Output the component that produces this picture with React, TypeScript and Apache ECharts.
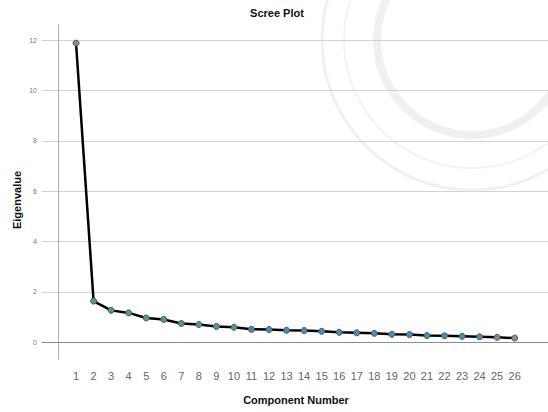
import React, { useEffect, useRef } from "react";
import * as echarts from "echarts";

const components = [1, 2, 3, 4, 5, 6, 7, 8, 9, 10, 11, 12, 13, 14, 15, 16, 17, 18, 19, 20, 21, 22, 23, 24, 25, 26];
const eigenvalues = [11.88, 1.64, 1.27, 1.17, 0.97, 0.91, 0.75, 0.71, 0.63, 0.6, 0.52, 0.51, 0.48, 0.47, 0.44, 0.4, 0.38, 0.36, 0.32, 0.31, 0.27, 0.26, 0.24, 0.22, 0.2, 0.17];
const markerColors = ["#8a8a8a", "#4f9a92", "#4f9a92", "#4f9a92", "#4f9a92", "#4f9a92", "#4f9a92", "#4f9a92", "#4f9a92", "#4f9a92", "#3f8fbf", "#3f8fbf", "#3f8fbf", "#3f8fbf", "#3f8fbf", "#3f8fbf", "#3f8fbf", "#3f8fbf", "#3f8fbf", "#3f8fbf", "#3f8fbf", "#3f8fbf", "#3f8fbf", "#3f8fbf", "#8a8a8a", "#8a8a8a"];
const yTicks = [0, 2, 4, 6, 8, 10, 12];

export default function App() {
  const ref = useRef<HTMLDivElement>(null);
  useEffect(() => {
    document.body.style.margin = "0";
    if (!ref.current) return;
    const chart = echarts.init(ref.current, undefined, { renderer: "svg" });
    const font = "Liberation Sans, Arial, sans-serif";
    chart.setOption({
      animation: false,
      backgroundColor: "#ffffff",
      graphic: [
        { type: "circle", z: 0, silent: true, shape: { cx: 472, cy: 40, r: 150 }, style: { fill: "none", stroke: "#f1f1f1", lineWidth: 3 } },
        { type: "circle", z: 0, silent: true, shape: { cx: 472, cy: 40, r: 128 }, style: { fill: "none", stroke: "#f3f3f3", lineWidth: 2 } },
        { type: "circle", z: 0, silent: true, shape: { cx: 472, cy: 40, r: 95 }, style: { fill: "none", stroke: "#f0f0f0", lineWidth: 8 } },
        { type: "text", z: 10, x: 277, y: 13, style: { text: "Scree Plot", font: `bold 11px ${font}`, fill: "#111", align: "center", verticalAlign: "middle" } },
        { type: "text", z: 10, x: 296, y: 400, style: { text: "Component Number", font: `bold 11px ${font}`, fill: "#111", align: "center", verticalAlign: "middle" } },
        { type: "text", z: 10, x: 17, y: 200, rotation: Math.PI / 2, style: { text: "Eigenvalue", font: `bold 11px ${font}`, fill: "#111", align: "center", verticalAlign: "middle" } },
      ],
      grid: { left: 42, right: 0, top: 25, bottom: 53 },
      xAxis: {
        type: "value",
        min: -0.94,
        max: 27.9,
        splitLine: { show: false },
        axisLine: { show: true, lineStyle: { color: "#8c8c8c", width: 1 } },
        axisTick: { show: false, customValues: components },
        axisLabel: { customValues: components, color: "#666", fontSize: 11, fontFamily: font, margin: 11 },
      },
      yAxis: {
        type: "value",
        min: -0.66,
        max: 12.6,
        axisLine: { show: true, lineStyle: { color: "#b0b0b0", width: 1 } },
        axisTick: { show: false, customValues: yTicks },
        axisLabel: { customValues: yTicks, color: "#777", fontSize: 7, fontFamily: font, margin: 5 },
        splitLine: { show: true, lineStyle: { color: "#d2d2d2", width: 1 } },
      },
      series: [
        {
          type: "line",
          data: components.map((c, i) => ({
            value: [c, eigenvalues[i]],
            itemStyle: { color: markerColors[i], borderColor: "#555", borderWidth: 1 },
          })),
          symbol: "circle",
          symbolSize: 6,
          lineStyle: { color: "#000", width: 2.5 },
          z: 5,
        },
      ],
    });
    return () => chart.dispose();
  }, []);
  return <div ref={ref} style={{ width: 548, height: 412 }} />;
}
